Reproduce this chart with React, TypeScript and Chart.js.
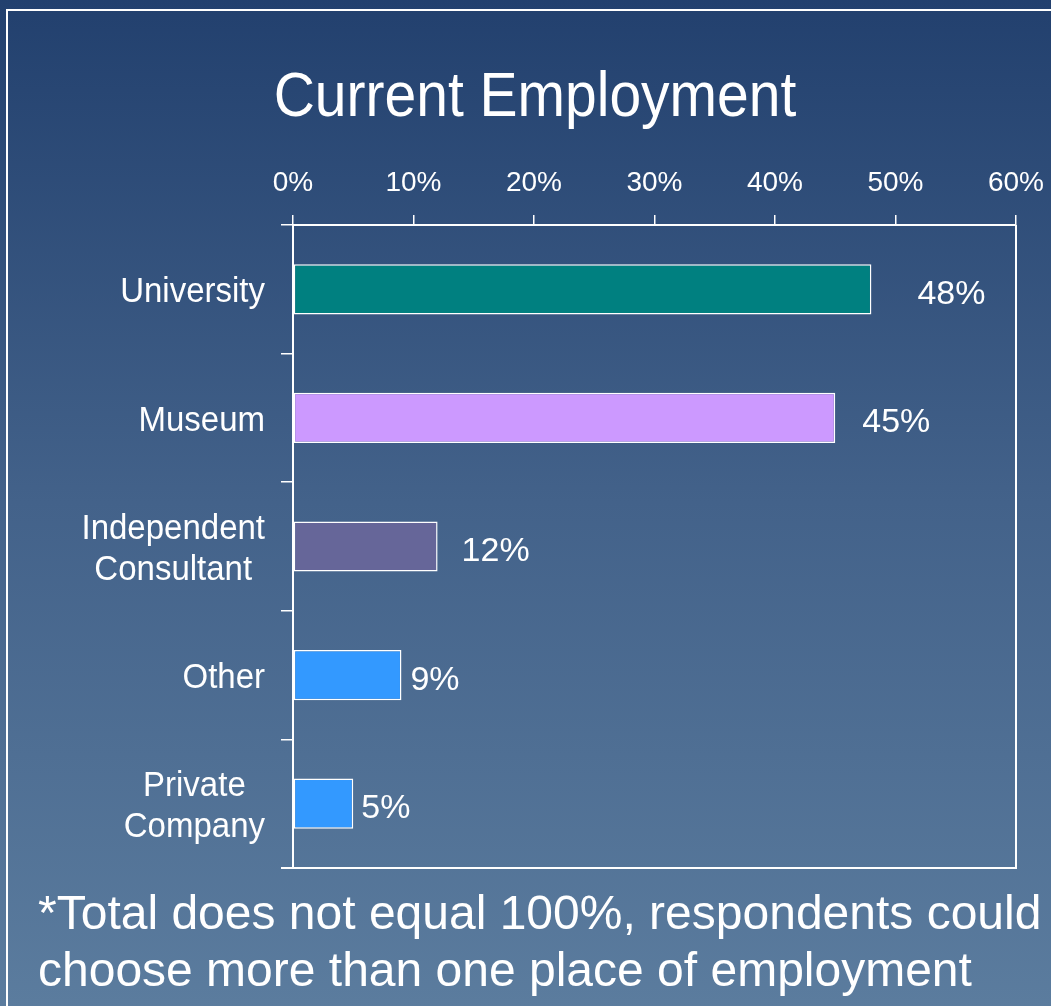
import React, { useEffect, useRef } from 'react';
import { Chart, registerables } from 'chart.js';

Chart.register(...registerables);

const W = 1051;
const H = 1006;
const FONT = '"Liberation Sans", Arial, Helvetica, sans-serif';

// ---- data ----
const titleText = 'Current Employment';
const categoryLines: string[][] = [
  ['University'],
  ['Museum'],
  ['Independent', 'Consultant'],
  ['Other'],
  ['Private', 'Company'],
];
const values = [48, 45, 12, 9, 5];
const barColors = ['#008080', '#cc99ff', '#666699', '#3399ff', '#3399ff'];
const xMin = 0;
const xMax = 60;
const xStep = 10;
const footnoteLines = [
  '*Total does not equal 100%, respondents could',
  'choose more than one place of employment',
];

// ---- styling ----
const labelGaps = [46, 27, 24, 9, 8];

function drawText(
  ctx: CanvasRenderingContext2D,
  text: string,
  x: number,
  y: number,
  size: number,
  sy: number,
  align: CanvasTextAlign
) {
  ctx.save();
  ctx.translate(x, y);
  ctx.scale(1, sy);
  ctx.font = `${size}px ${FONT}`;
  ctx.fillStyle = '#ffffff';
  ctx.textAlign = align;
  ctx.textBaseline = 'alphabetic';
  ctx.fillText(text, 0, 0);
  ctx.restore();
}

const decor = {
  id: 'decor',
  beforeDraw(chart: any) {
    const ctx: CanvasRenderingContext2D = chart.ctx;
    ctx.save();
    const g = ctx.createLinearGradient(0, 0, 0, H);
    g.addColorStop(0, '#22406e');
    g.addColorStop(0.5, '#43628a');
    g.addColorStop(1, '#5b7c9e');
    ctx.fillStyle = g;
    ctx.fillRect(0, 0, W, H);
    ctx.strokeStyle = '#ffffff';
    ctx.lineWidth = 2;
    ctx.beginPath();
    ctx.moveTo(7, H + 2);
    ctx.lineTo(7, 10);
    ctx.lineTo(W + 2, 10);
    ctx.stroke();
    ctx.restore();
  },
  afterDraw(chart: any) {
    const ctx: CanvasRenderingContext2D = chart.ctx;
    const a = chart.chartArea;
    ctx.save();
    ctx.strokeStyle = '#ffffff';
    ctx.lineWidth = 2;
    ctx.beginPath();
    ctx.moveTo(a.right, a.top);
    ctx.lineTo(a.right, a.bottom);
    ctx.lineTo(a.left - 12, a.bottom);
    ctx.stroke();
    ctx.restore();

    // title
    drawText(ctx, titleText, 535, 116, 57, 1.1, 'center');

    // category labels
    const yScale = chart.scales.y;
    const catSize = 33;
    const catSy = 1.08;
    const capH = catSize * 0.716 * catSy;
    const lineGap = 41;
    const rightEdge = 265;
    categoryLines.forEach((lines, i) => {
      const cy = yScale.getPixelForValue(i);
      ctx.save();
      ctx.font = `${catSize}px ${FONT}`;
      const maxW = Math.max(...lines.map((l) => ctx.measureText(l).width));
      ctx.restore();
      const cx = rightEdge - maxW / 2;
      lines.forEach((l, j) => {
        const by = cy + capH / 2 + (j - (lines.length - 1) / 2) * lineGap;
        drawText(ctx, l, cx, by, catSize, catSy, 'center');
      });
    });

    // data labels
    const meta = chart.getDatasetMeta(0);
    const dSize = 34;
    const dSy = 0.95;
    meta.data.forEach((bar: any, i: number) => {
      const by = bar.y + 3 + (dSize * 0.716 * dSy) / 2;
      drawText(ctx, values[i] + '%', bar.x + labelGaps[i], by, dSize, dSy, 'left');
    });

    // footnote
    drawText(ctx, footnoteLines[0], 38, 929, 48, 1.0, 'left');
    drawText(ctx, footnoteLines[1], 38, 986, 48, 1.0, 'left');
  },
};

export default function App() {
  const ref = useRef<HTMLCanvasElement>(null);
  useEffect(() => {
    if (!ref.current) return;
    const chart = new Chart(ref.current, {
      type: 'bar',
      data: {
        labels: categoryLines.map((l) => l.join(' ')),
        datasets: [
          {
            data: values,
            backgroundColor: barColors,
            borderColor: '#ffffff',
            borderWidth: 1.5,
            borderSkipped: false,
            categoryPercentage: 1,
            barPercentage: 0.39,
          },
        ],
      },
      options: {
        indexAxis: 'y',
        animation: false,
        responsive: false,
        devicePixelRatio: 1,
        layout: { padding: { top: 151.4, left: 281, right: 35, bottom: 138 } },
        plugins: {
          legend: { display: false },
          tooltip: { enabled: false },
          title: { display: false },
        },
        scales: {
          x: {
            type: 'linear',
            position: 'top',
            min: xMin,
            max: xMax,
            ticks: {
              stepSize: xStep,
              color: '#ffffff',
              font: { family: FONT, size: 28 },
              padding: 15,
              callback: (v: any) => v + '%',
            },
            grid: {
              drawOnChartArea: false,
              drawTicks: true,
              tickLength: 10,
              color: '#ffffff',
              lineWidth: 1.5,
            },
            border: { display: true, color: '#ffffff', width: 2 },
            afterFit: (s: any) => {
              s.paddingLeft = 0;
              s.paddingRight = 0;
            },
          },
          y: {
            type: 'category',
            ticks: { display: false },
            grid: {
              offset: true,
              drawOnChartArea: false,
              drawTicks: true,
              tickLength: 12,
              color: '#ffffff',
              lineWidth: 1.5,
            },
            border: { display: true, color: '#ffffff', width: 2 },
            afterFit: (s: any) => {
              s.width = 12;
            },
          },
        },
      },
      plugins: [decor],
    } as any);
    return () => chart.destroy();
  }, []);
  return (
    <div style={{ position: 'absolute', left: 0, top: 0, width: W, height: H }}>
      <canvas ref={ref} width={W} height={H} style={{ display: 'block' }} />
    </div>
  );
}
